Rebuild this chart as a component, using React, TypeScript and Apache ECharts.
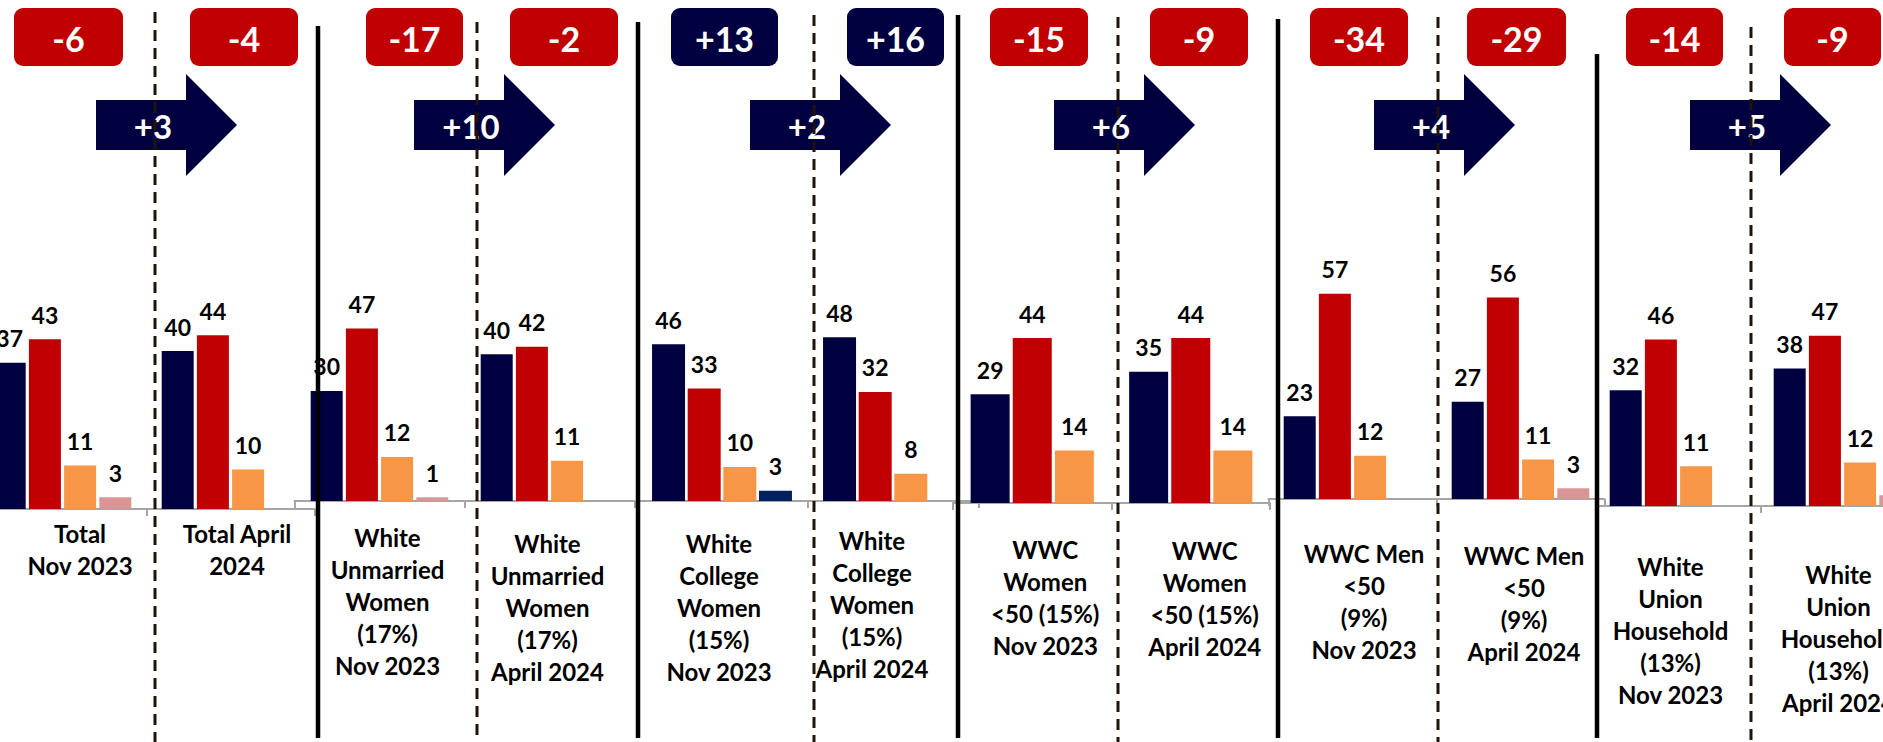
import React, { useEffect, useRef } from "react";
import * as echarts from "echarts";

// ---------- DATA ----------
const categories = [
  "Total\nNov 2023",
  "Total April\n2024",
  "White\nUnmarried\nWomen\n(17%)\nNov 2023",
  "White\nUnmarried\nWomen\n(17%)\nApril 2024",
  "White\nCollege\nWomen\n(15%)\nNov 2023",
  "White\nCollege\nWomen\n(15%)\nApril 2024",
  "WWC\nWomen\n<50 (15%)\nNov 2023",
  "WWC\nWomen\n<50 (15%)\nApril 2024",
  "WWC Men\n<50\n(9%)\nNov 2023",
  "WWC Men\n<50\n(9%)\nApril 2024",
  "White\nUnion\nHousehold\n(13%)\nNov 2023",
  "White\nUnion\nHousehold\n(13%)\nApril 2024",
];
const navyValues = [37, 40, 30, 40, 46, 48, 29, 35, 23, 27, 32, 38];
const redValues = [43, 44, 47, 42, 33, 32, 44, 44, 57, 56, 46, 47];
const orangeValues = [11, 10, 12, 11, 10, 8, 14, 14, 12, 11, 11, 12];
const otherValues: (number | null)[] = [3, null, 1, null, 3, null, null, null, null, 3, null, 3];
const marginValues = [-6, -4, -17, -2, 13, 16, -15, -9, -34, -29, -14, -9];
const shiftValues = [3, 10, 2, 6, 4, 5];

// ---------- LAYOUT / STYLE ----------
const NAVY = "#000040";
const RED = "#C00000";
const ORANGE = "#F79646";
const PINK = "#DA9694";
const otherBarColors: Record<number, string> = { 4: "#002060" };
const FONT = "Lato";

// the canvas extends beyond the visible page on both sides (panels are cropped)
const OX = 40;
const EXTRA_RIGHT = 60;
const W = 1883;
const H = 742;

const panels = [
  { left: -21.5, width: 336, baseline: 509, scale: 3.95, barWidth: 32, barGap: "10%", other: true },
  { left: 294.5, width: 340, baseline: 501, scale: 3.67, barWidth: 32, barGap: "10%", other: true },
  { left: 636.5, width: 342, baseline: 501, scale: 3.41, barWidth: 33, barGap: "8%", other: true },
  { left: 953, width: 317, baseline: 503, scale: 3.75, barWidth: 39, barGap: "8%", other: false },
  { left: 1268.5, width: 336, baseline: 499, scale: 3.6, barWidth: 32, barGap: "10%", other: true },
  { left: 1596.5, width: 328, baseline: 506, scale: 3.62, barWidth: 32, barGap: "10%", other: true },
];
const labelDx = [17.5, 6.5, 8, -2, -3, -21, 13, 14, 11.5, 3.5, -8, -4];
const labelFirstLineY = [533, 533, 537, 543, 543, 540, 549, 550, 553, 555, 566, 574];
const boxes = [
  [14, 109], [190, 108], [366, 97], [510, 108], [671, 107], [847, 97],
  [990, 98], [1150, 98], [1310, 98], [1467, 99], [1626, 97], [1784, 97],
];
const arrowLefts = [96, 414, 750, 1054, 1374, 1690];
const solidLines = [[318, 26], [638, 22], [958, 15], [1278, 19], [1597, 54]];
const dashedLines = [[155, 12], [477, 22], [814, 15], [1118, 17], [1438, 17], [1751, 27]];

function fmt(v: number) {
  return v > 0 ? "+" + v : String(v);
}

export default function App() {
  const ref = useRef<HTMLDivElement>(null);
  useEffect(() => {
    if (!ref.current) return;
    const chart = echarts.init(ref.current, undefined, { renderer: "svg" });

    const grid: any[] = [];
    const xAxis: any[] = [];
    const yAxis: any[] = [];
    const series: any[] = [];

    const valueLabel = {
      show: true,
      position: "top",
      distance: 13,
      fontSize: 23,
      fontWeight: "bold",
      fontFamily: FONT,
      color: "#000",
    };

    panels.forEach((p, i) => {
      const h = 100 * p.scale;
      grid.push({ left: p.left + OX, width: p.width, top: p.baseline - h, height: h, containLabel: false });
      const idx = [2 * i, 2 * i + 1];
      xAxis.push({
        type: "category",
        gridIndex: i,
        data: idx.map((k) => {
          const dx = labelDx[k];
          const padTop = labelFirstLineY[k] - 16 - p.baseline;
          return {
            value: categories[k],
            textStyle: { padding: [padTop, dx < 0 ? -2 * dx : 0, 0, dx > 0 ? 2 * dx : 0] },
          };
        }),
        axisLine: { show: true, lineStyle: { color: "#A6A6A6", width: 2 } },
        axisTick: { show: true, length: 7, lineStyle: { color: "#A6A6A6", width: 2 } },
        axisLabel: {
          interval: 0,
          margin: 0,
          fontSize: 24,
          fontWeight: "bold",
          fontFamily: FONT,
          color: "#000",
          lineHeight: 32,
        },
        splitLine: { show: false },
      });
      yAxis.push({ type: "value", gridIndex: i, min: 0, max: 100, show: false });

      const common = {
        type: "bar",
        xAxisIndex: i,
        yAxisIndex: i,
        barWidth: p.barWidth,
        barGap: p.barGap,
        label: valueLabel,
      };
      series.push({ ...common, name: "Navy", itemStyle: { color: NAVY }, data: idx.map((k) => navyValues[k]) });
      series.push({ ...common, name: "Red", itemStyle: { color: RED }, data: idx.map((k) => redValues[k]) });
      series.push({ ...common, name: "Orange", itemStyle: { color: ORANGE }, data: idx.map((k) => orangeValues[k]) });
      if (p.other) {
        series.push({
          ...common,
          name: "Other",
          itemStyle: { color: PINK },
          data: idx.map((k) =>
            otherBarColors[k] && otherValues[k] != null
              ? { value: otherValues[k], itemStyle: { color: otherBarColors[k] } }
              : otherValues[k]
          ),
        });
      }
    });

    const graphic: any[] = [];
    // margin boxes
    boxes.forEach(([x, w], k) => {
      const v = marginValues[k];
      graphic.push({
        type: "rect",
        z: 50,
        shape: { x: x + OX, y: 8, width: w, height: 58, r: 9 },
        style: { fill: v > 0 ? NAVY : RED },
      });
      graphic.push({
        type: "text",
        z: 51,
        x: x + OX + w / 2,
        y: 38,
        style: {
          text: fmt(v),
          fill: "#fff",
          fontSize: 34,
          fontWeight: "bold",
          fontFamily: FONT,
          align: "center",
          verticalAlign: "middle",
        },
      });
    });
    // arrows
    arrowLefts.forEach((L0, j) => {
      const L = L0 + OX;
      graphic.push({
        type: "polygon",
        z: 50,
        shape: {
          points: [
            [L, 100], [L + 90, 100], [L + 90, 74], [L + 141, 125],
            [L + 90, 176], [L + 90, 150], [L, 150],
          ],
        },
        style: { fill: NAVY },
      });
      graphic.push({
        type: "text",
        z: 51,
        x: L + 57,
        y: 126,
        style: {
          text: fmt(shiftValues[j]),
          fill: "#fff",
          fontSize: 33,
          fontWeight: "bold",
          fontFamily: FONT,
          align: "center",
          verticalAlign: "middle",
        },
      });
    });
    // separators
    solidLines.forEach(([x, top]) => {
      graphic.push({
        type: "line",
        z: 100,
        shape: { x1: x + OX, y1: top, x2: x + OX, y2: 738 },
        style: { stroke: "#000", lineWidth: 4.5 },
      });
    });
    dashedLines.forEach(([x, top]) => {
      graphic.push({
        type: "line",
        z: 100,
        shape: { x1: x + OX, y1: top, x2: x + OX, y2: 742 },
        style: { stroke: "#1E140A", lineWidth: 3, lineDash: [11, 7] },
      });
    });

    chart.setOption({
      animation: false,
      backgroundColor: "#fff",
      grid,
      xAxis,
      yAxis,
      series,
      graphic,
    });
    return () => chart.dispose();
  }, []);
  return (
    <div
      style={{
        position: "absolute",
        left: 0,
        top: 0,
        width: W,
        height: H,
        overflow: "hidden",
        background: "#fff",
      }}
    >
      <div
        ref={ref}
        style={{ position: "absolute", left: -OX, top: 0, width: W + OX + EXTRA_RIGHT, height: H }}
      />
    </div>
  );
}
